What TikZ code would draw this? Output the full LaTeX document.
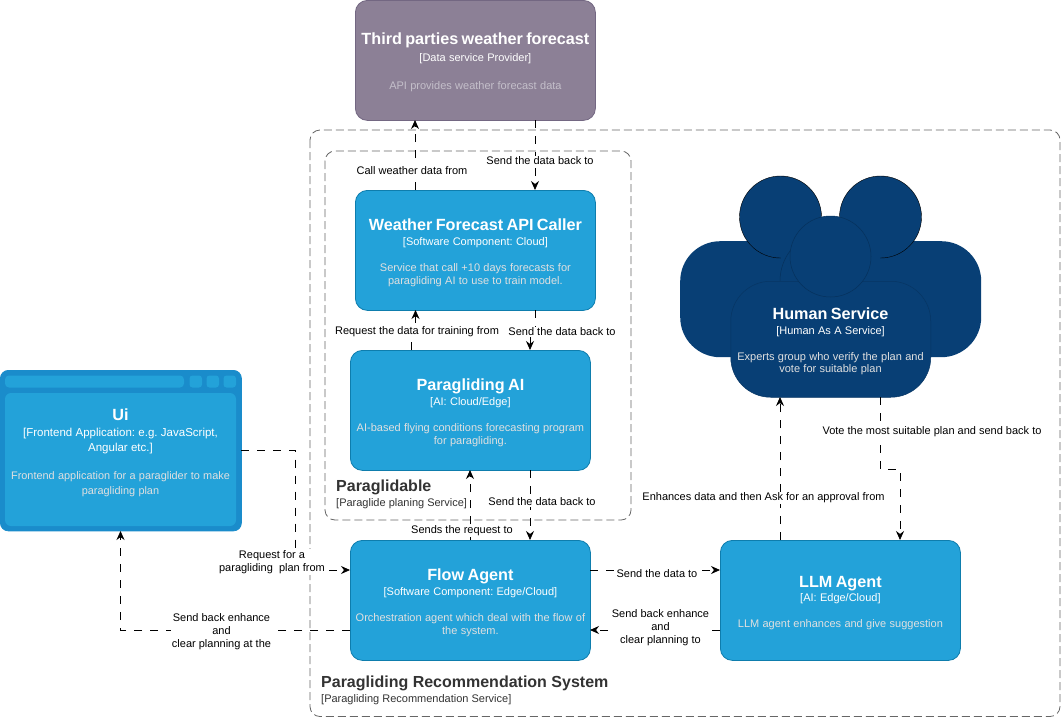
\documentclass[tikz,border=0pt]{standalone}
\usepackage{fontspec}
\setmainfont{Liberation Sans}
\usetikzlibrary{arrows.meta}
\definecolor{cblue}{HTML}{23A2D9}
\definecolor{cblueB}{HTML}{0E7DAD}
\definecolor{cdark}{HTML}{083F75}
\definecolor{cdarkB}{HTML}{06315C}
\definecolor{cgrey}{HTML}{8C8096}
\definecolor{cgreyB}{HTML}{736782}
\definecolor{cwin}{HTML}{1A8CCB}
\definecolor{lbl}{HTML}{333333}
\definecolor{dimw}{HTML}{E0E0E0}
\definecolor{dimg}{HTML}{C4BFCA}
\frenchspacing
\newcommand{\titlegap}{15.5}
\newcommand{\descgap}{13.2}
\newcommand{\titledrop}{-5pt}
\newcommand{\boxtext}[4][dimw]{\lineskiplimit=-100pt\parskip=0pt\vspace*{4pt}{\fontsize{16.2}{17}\selectfont\bfseries\raisebox{\titledrop}[11.7pt][3.4pt]{#2}\par}{\fontsize{11}{\titlegap}\selectfont #3\par}\vspace{\descgap pt}{\fontsize{11}{12.8}\selectfont\color{#1} #4\par}}
\tikzset{
  x=1pt,y=-1pt,
  comp/.style={draw=cblueB,fill=cblue,rounded corners=12pt,line width=.8pt,minimum width=240pt,minimum height=120pt,text=white,align=center,anchor=north west,inner sep=0pt,text width=232pt},
  conn/.style={draw=black,line width=.8pt,dash pattern=on 8pt off 8pt,-{Stealth[length=9pt,width=8pt,inset=3pt]}},
  boundary/.style={draw=black!60,line width=.8pt,dash pattern=on 8pt off 4pt,rounded corners=10pt},
  lab/.style={fill=white,inner sep=1pt,align=center,font=\fontsize{11}{13}\selectfont,text=black},
  body/.style={fill=cdark,rounded corners=40pt,anchor=north west,inner sep=0pt},
  head/.style={fill=cdark},
  grp/.style={anchor=west,text=lbl,inner sep=0pt,align=left},
}
\begin{document}
\begin{tikzpicture}
\useasboundingbox (0,0) rectangle (1062,718);
\fill[white] (0,0) rectangle (1062,718);
% boundaries
\draw[boundary] (310,130) rectangle (1060,716.5);
\draw[boundary] (325,151) rectangle (631,520);
\node[grp] (g1) at (321,683.5) {\fontsize{16}{16}\selectfont\bfseries Paragliding Recommendation System};
\node[grp] (g1s) at (321,700) {\fontsize{11}{11}\selectfont [Paragliding Recommendation Service]};
\node[grp] (g2) at (336,487) {\fontsize{16}{16}\selectfont\bfseries Paraglidable};
\node[grp] (g2s) at (336,504) {\fontsize{11}{11}\selectfont [Paraglide planing Service]};
% human
\node[body,minimum width=301pt,minimum height=116pt] (bodyB) at (680,241) {};
\draw[head] (780.5,217) circle (41);
\draw[head] (880.5,217) circle (41);
\fill[cdark] (781,250) rectangle (880,330);
\draw[cdarkB,line width=.5pt] (780,281) arc (180:240:50);
\node[body,draw=cdarkB!70!cdark,line width=.5pt,minimum width=200pt,minimum height=116pt] (human) at (730.5,281) {};
\node[head,draw=cdarkB,line width=.5pt,circle,minimum size=81pt,inner sep=0pt] (headM) at (830.5,256.5) {};
\node[text=white,align=center,inner sep=0pt,text width=196pt] (humant) at (830.5,339) {\boxtext{Human Service}{[Human As A Service]}{Experts group who verify the plan and\\vote for suitable plan}};
% third
\node[comp,draw=cgreyB,fill=cgrey] (third) at (355,0) {\renewcommand{\titlegap}{17}\renewcommand{\descgap}{15.3}\renewcommand{\titledrop}{-4pt}\boxtext[dimg]{Third parties weather forecast}{[Data service Provider]}{API provides weather forecast data}};
% comps
\node[comp] (api) at (355,190) {\boxtext{Weather Forecast API Caller}{[Software Component: Cloud]}{Service that call +10 days forecasts for\\paragliding AI to use to train model.}};
\node[comp] (ai) at (350,350) {\boxtext{Paragliding AI}{[AI: Cloud/Edge]}{AI-based flying conditions forecasting program\\for paragliding.}};
\node[comp] (flow) at (350,540) {\boxtext{Flow Agent}{[Software Component: Edge/Cloud]}{Orchestration agent which deal with the flow of\\the system.}};
\node[comp] (llm) at (720,540) {\boxtext{LLM Agent}{[AI: Edge/Cloud]}{LLM agent enhances and give suggestion}};
% ui
\node[comp,draw=cwin,fill=cwin,minimum width=241pt,minimum height=160.5pt,rounded corners=8pt,text width=228pt] (ui) at (0,370) {};
\fill[cblue,rounded corners=4pt] (5,375.5) rectangle (184,387.5);
\fill[cblue,rounded corners=3pt] (189.5,375.5) rectangle (202,387.5);
\fill[cblue,rounded corners=3pt] (206.5,375.5) rectangle (219,387.5);
\fill[cblue,rounded corners=3pt] (223.5,375.5) rectangle (236,387.5);
\fill[cblue,rounded corners=6pt] (5,393) rectangle (236,526);
\node[text=white,align=center,inner sep=0pt,text width=228pt] (uit) at (120.5,452.5) {{\fontsize{16.2}{17.5}\selectfont\bfseries Ui\par}\vspace{1pt}{\fontsize{11.5}{15}\selectfont [Frontend Application: e.g. JavaScript,\\Angular etc.]\par}\vspace{13pt}{\fontsize{10.9}{15}\selectfont\color{dimw} Frontend application for a paraglider to make\\paragliding plan\par}};
% connectors
\coordinate (c1) at (415,190); \coordinate (c1e) at (415,120);
\coordinate (c2) at (535,120); \coordinate (c2e) at (535,190);
\draw[conn] (c1) -- (c1e);
\draw[conn] (c2) -- (c2e);
\node[lab] (l1) at (412,171) {Call weather data from};
\node[lab] (l2) at (540,161) {Send the data back to};
\coordinate (c3) at (411,350); \coordinate (c3a) at (411,330); \coordinate (c3b) at (415.5,330); \coordinate (c3e) at (415.5,310);
\coordinate (c4) at (535,310); \coordinate (c4a) at (535,330); \coordinate (c4b) at (530,330); \coordinate (c4e) at (530,350);
\draw[conn] (c3) -- (c3a) -- (c3b) -- (c3e);
\draw[conn] (c4) -- (c4a) -- (c4b) -- (c4e);
\node[lab] (l3) at (417,332) {Request the data for training from};
\node[lab] (l4) at (562,332) {Send the data back to};
\coordinate (c5) at (470,540); \coordinate (c5e) at (470,470);
\coordinate (c6) at (530,470); \coordinate (c6e) at (530,540);
\draw[conn] (c5) -- (c5e);
\draw[conn] (c6) -- (c6e);
\node[lab] (l5) at (462,531) {Sends the request to};
\node[lab] (l6) at (542,502) {Send the data back to};
\coordinate (c7) at (241,450); \coordinate (c7a) at (295.5,450); \coordinate (c7b) at (295.5,570); \coordinate (c7e) at (350,570);
\draw[conn] (c7) -- (c7a) -- (c7b) -- (c7e);
\node[lab] (l7) at (272,562) {Request for a\\paragliding\ \ plan from};
\coordinate (c8) at (350,630); \coordinate (c8a) at (120.5,630); \coordinate (c8e) at (120.5,531);
\draw[conn] (c8) -- (c8a) -- (c8e);
\node[lab] (l8) at (221.5,632) {Send back enhance\\and\\clear planning at the};
\coordinate (c9) at (590,570); \coordinate (c9e) at (720,570);
\draw[conn] (c9) -- (c9e);
\node[lab] (l9) at (657,574) {Send the data to};
\coordinate (c10) at (720,630); \coordinate (c10e) at (590,630);
\draw[conn] (c10) -- (c10e);
\node[lab] (l10) at (660.5,628) {Send back enhance\\and\\clear planning to};
\coordinate (c11) at (780,540); \coordinate (c11e) at (780,397);
\draw[conn] (c11) -- (c11e);
\node[lab] (l11) at (763.5,498) {Enhances data and then Ask for an approval from};
\coordinate (c12) at (880,397); \coordinate (c12a) at (880,469); \coordinate (c12b) at (900,469); \coordinate (c12e) at (900,540);
\draw[conn] (c12) -- (c12a) -- (c12b) -- (c12e);
\node[lab] (l12) at (932,432) {Vote the most suitable plan and send back to};
\end{tikzpicture}
\end{document}
